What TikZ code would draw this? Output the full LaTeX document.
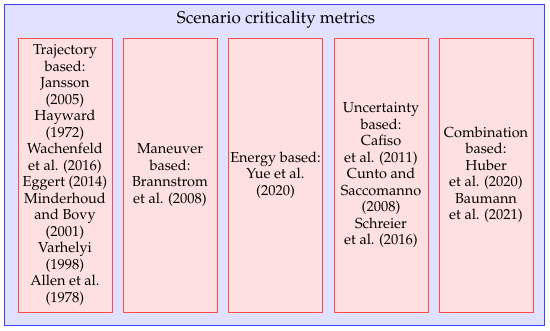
\documentclass[tikz,border=0pt]{standalone}
\usepackage[T1]{fontenc}
\usepackage{mathpazo}

\begin{document}
\begin{tikzpicture}[
    x=1pt, y=-1pt,
    font=\fontsize{14.5}{16.5}\selectfont,
    frame/.style={rectangle, draw=blue!75, fill=blue!12, line width=1pt},
    metric/.style={rectangle, draw=red!70, fill=red!12, line width=0.8pt, text centered, align=center, minimum width=94pt, minimum height=274pt, inner sep=0pt},
    heading/.style={font=\fontsize{17}{18}\selectfont}
]
\useasboundingbox (0,0) rectangle (550,330);

% --- Outer frame ---
\node (frame) at (274,164.5) [frame, minimum width=540pt, minimum height=321pt] {};
\node (title) at (276,20) [heading] {Scenario criticality metrics};

% --- Metric categories ---
\node (traj) at (65,175) [metric] {Trajectory\\ based:\\ Jansson\\ (2005)\\ Hayward\\ (1972)\\ Wachenfeld\\ et al. (2016)\\ Eggert (2014)\\ Minderhoud\\ and Bovy\\ (2001)\\ Varhelyi\\ (1998)\\ Allen et al.\\ (1978)};
\node (maneuver) at (170,175) [metric] {Maneuver\\ based:\\ Brannstrom\\ et al. (2008)};
\node (energy) at (275.5,175) [metric] {Energy based:\\ Yue et al.\\ (2020)};
\node (uncert) at (381,175) [metric] {Uncertainty\\ based:\\ Cafiso\\ et al. (2011)\\ Cunto and\\ Saccomanno\\ (2008)\\ Schreier\\ et al. (2016)};
\node (combi) at (486,175) [metric] {Combination\\ based:\\ Huber\\ et al. (2020)\\ Baumann\\ et al. (2021)};

\end{tikzpicture}
\end{document}
